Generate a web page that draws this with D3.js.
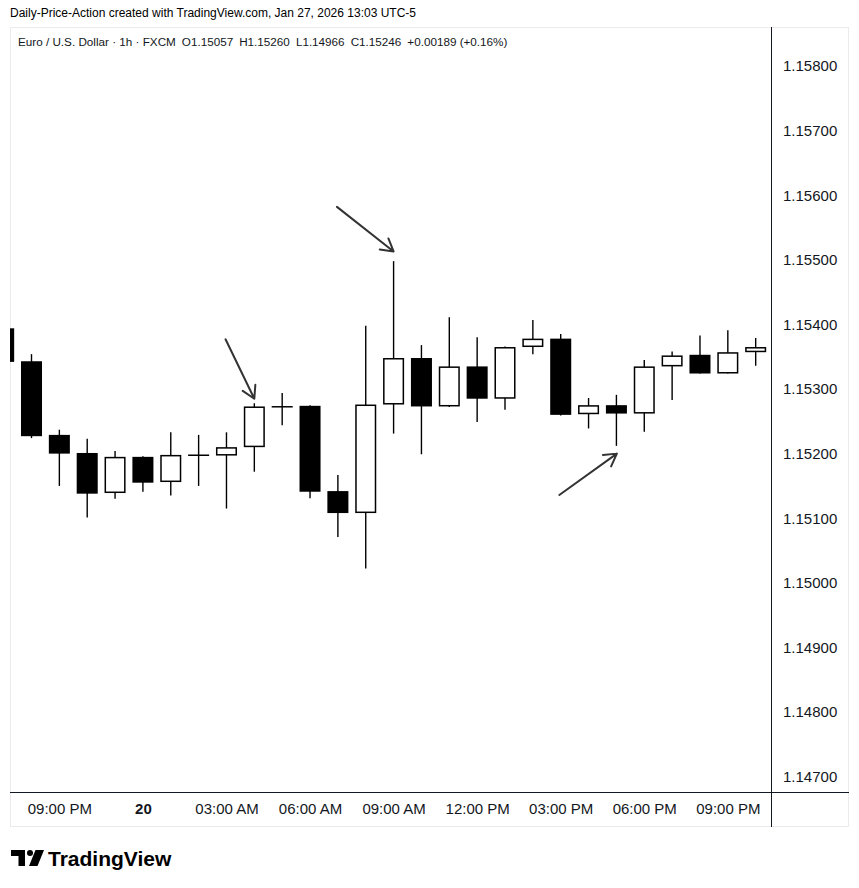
<!DOCTYPE html>
<html>
<head>
<meta charset="utf-8">
<script src="https://cdn.jsdelivr.net/npm/d3@7"></script>
<style>
  html, body { margin: 0; padding: 0; background: #ffffff; }
  svg { display: block; }
  text { font-family: "Liberation Sans", Arial, sans-serif; }
</style>
</head>
<body>
<svg id="chart" width="859" height="888"></svg>
<script>
// ---------- DATA ----------
const hours = ["Jan 19 19:00","Jan 19 20:00","Jan 19 21:00","Jan 19 22:00","Jan 19 23:00",
  "Jan 20 00:00","Jan 20 01:00","Jan 20 02:00","Jan 20 03:00","Jan 20 04:00","Jan 20 05:00",
  "Jan 20 06:00","Jan 20 07:00","Jan 20 08:00","Jan 20 09:00","Jan 20 10:00","Jan 20 11:00",
  "Jan 20 12:00","Jan 20 13:00","Jan 20 14:00","Jan 20 15:00","Jan 20 16:00","Jan 20 17:00",
  "Jan 20 18:00","Jan 20 19:00","Jan 20 20:00","Jan 20 21:00","Jan 20 22:00"];
const open  = [1.15394,1.15343,1.15229,1.15201,1.15139,1.15195,1.15156,1.15198,1.15197,1.15210,1.15273,
  1.15274,1.15142,1.15108,1.15276,1.15348,1.15273,1.15335,1.15285,1.15365,1.15378,1.15261,1.15275,
  1.15262,1.15335,1.15353,1.15324,1.15357];
const high  = [1.15400,1.15354,1.15237,1.15223,1.15204,1.15196,1.15233,1.15229,1.15233,1.15278,1.15294,
  1.15275,1.15167,1.15398,1.15498,1.15368,1.15411,1.15380,1.15366,1.15407,1.15385,1.15286,1.15291,
  1.15345,1.15358,1.15383,1.15391,1.15379];
const low   = [1.15335,1.15224,1.15150,1.15101,1.15130,1.15141,1.15135,1.15150,1.15115,1.15172,1.15244,
  1.15131,1.15071,1.15022,1.15231,1.15199,1.15272,1.15249,1.15268,1.15354,1.15259,1.15239,1.15212,
  1.15234,1.15283,1.15324,1.15324,1.15336];
const close = [1.15342,1.15227,1.15200,1.15138,1.15195,1.15155,1.15198,1.15197,1.15210,1.15273,1.15272,
  1.15141,1.15108,1.15276,1.15348,1.15273,1.15335,1.15285,1.15365,1.15378,1.15260,1.15275,1.15262,
  1.15335,1.15352,1.15324,1.15357,1.15365];

const timeTickHours  = ["Jan 19 21:00","Jan 20 00:00","Jan 20 03:00","Jan 20 06:00","Jan 20 09:00",
  "Jan 20 12:00","Jan 20 15:00","Jan 20 18:00","Jan 20 21:00"];
const timeTickLabels = ["09:00 PM","20","03:00 AM","06:00 AM","09:00 AM","12:00 PM","03:00 PM","06:00 PM","09:00 PM"];
const priceTicks = [1.147,1.148,1.149,1.150,1.151,1.152,1.153,1.154,1.155,1.156,1.157,1.158];

// arrow annotations
const arrowFromHour  = ["Jan 20 02:58","Jan 20 06:58","Jan 20 14:57"];
const arrowFromPrice = [1.15377, 1.15582, 1.15136];
const arrowToHour    = ["Jan 20 04:00","Jan 20 09:00","Jan 20 17:01"];
const arrowToPrice   = [1.15285, 1.15513, 1.15200];

const headerText = "Daily-Price-Action created with TradingView.com, Jan 27, 2026 13:03 UTC-5";
const legendText = "Euro / U.S. Dollar · 1h · FXCM";
const legendOHLC = ["O1.15057","H1.15260","L1.14966","C1.15246","+0.00189 (+0.16%)"];

// ---------- LAYOUT ----------
const box = {left: 10, top: 27, right: 849, bottom: 827};
const plot = {left: 10, top: 27, right: 771, bottom: 792};
const parse = d3.timeParse("%Y %b %d %H:%M");
const toDate = s => parse("2026 " + s);
const bars = hours.map((h, i) => ({t: toDate(h), o: open[i], h: high[i], l: low[i], c: close[i]}));

const t0 = toDate("Jan 19 20:00");
const hourMs = 3600e3;
const x = d3.scaleTime()
  .domain([new Date(+t0 - 0.772 * hourMs), new Date(+t0 + 26.55 * hourMs)])
  .range([plot.left, plot.right]);
const y = d3.scaleLinear().domain([1.146762, 1.158604]).range([plot.bottom, plot.top]);
const step = x(new Date(+t0 + hourMs)) - x(t0);
const bodyW = step * 0.755;

const svg = d3.select("#chart");
const ink = "#131722";

// header
svg.append("text").attr("x", 10).attr("y", 17).attr("font-size", 12).attr("fill", "#000")
  .text(headerText);

// box
svg.append("rect").attr("x", box.left + 0.5).attr("y", box.top + 0.5)
  .attr("width", box.right - box.left - 1).attr("height", box.bottom - box.top - 1)
  .attr("fill", "#fff").attr("stroke", "#ebebeb");

// legend
const leg = svg.append("text").attr("x", 18).attr("y", 46).attr("font-size", 11.7).attr("fill", ink);
leg.append("tspan").text(legendText);
legendOHLC.forEach(s => leg.append("tspan").attr("dx", 6).text(s));

// clip
svg.append("clipPath").attr("id", "clip").append("rect")
  .attr("x", plot.left).attr("y", plot.top)
  .attr("width", plot.right - plot.left).attr("height", plot.bottom - plot.top);
const g = svg.append("g").attr("clip-path", "url(#clip)");

// candles
const cg = g.selectAll("g.c").data(bars).join("g").attr("class", "c");
cg.append("line")
  .attr("x1", d => x(d.t)).attr("x2", d => x(d.t))
  .attr("y1", d => y(d.h)).attr("y2", d => y(d.l))
  .attr("stroke", "#000").attr("stroke-width", 1.4);
cg.each(function(d) {
  const sel = d3.select(this);
  const top = y(Math.max(d.o, d.c)), bot = y(Math.min(d.o, d.c));
  const cx = x(d.t);
  if (bot - top < 1.5) {
    sel.append("line").attr("x1", cx - bodyW / 2).attr("x2", cx + bodyW / 2)
      .attr("y1", (top + bot) / 2).attr("y2", (top + bot) / 2)
      .attr("stroke", "#000").attr("stroke-width", 1.5);
  } else if (d.c < d.o) {
    sel.append("rect").attr("x", cx - bodyW / 2).attr("y", top)
      .attr("width", bodyW).attr("height", bot - top).attr("fill", "#000");
  } else {
    sel.append("rect").attr("x", cx - bodyW / 2 + 0.75).attr("y", top + 0.75)
      .attr("width", bodyW - 1.5).attr("height", Math.max(0, bot - top - 1.5))
      .attr("fill", "#fff").attr("stroke", "#000").attr("stroke-width", 1.5);
  }
});

// arrows
const arrowCol = "#333333";
arrowFromHour.forEach((fh, i) => {
  const x1 = x(toDate(fh)), y1 = y(arrowFromPrice[i]);
  const x2 = x(toDate(arrowToHour[i])), y2 = y(arrowToPrice[i]);
  const ang = Math.atan2(y2 - y1, x2 - x1);
  const L = 14, spread = Math.PI / 6;
  const hx1 = x2 - L * Math.cos(ang - spread), hy1 = y2 - L * Math.sin(ang - spread);
  const hx2 = x2 - L * Math.cos(ang + spread), hy2 = y2 - L * Math.sin(ang + spread);
  svg.append("path")
    .attr("d", `M${x1},${y1}L${x2},${y2}M${hx1},${hy1}L${x2},${y2}L${hx2},${hy2}`)
    .attr("fill", "none").attr("stroke", arrowCol).attr("stroke-width", 2)
    .attr("stroke-linecap", "round").attr("stroke-linejoin", "round");
});

// axes lines
svg.append("line").attr("x1", plot.right + 0.5).attr("x2", plot.right + 0.5)
  .attr("y1", box.top).attr("y2", box.bottom).attr("stroke", ink).attr("stroke-width", 1);
svg.append("line").attr("x1", box.left).attr("x2", box.right)
  .attr("y1", plot.bottom + 0.5).attr("y2", plot.bottom + 0.5).attr("stroke", ink).attr("stroke-width", 1);

// price axis
const yAxis = d3.axisRight(y).tickValues(priceTicks).tickFormat(d3.format(".5f")).tickSize(0).tickPadding(12);
const ya = svg.append("g").attr("transform", `translate(${plot.right},0)`).call(yAxis);
ya.select(".domain").remove();
ya.selectAll("text").attr("font-size", 15).attr("fill", ink)
  .attr("font-family", "'Liberation Sans', Arial, sans-serif");

// time axis
const xAxis = d3.axisBottom(x).tickValues(timeTickHours.map(toDate))
  .tickFormat((d, i) => timeTickLabels[i]).tickSize(0).tickPadding(11);
const xa = svg.append("g").attr("transform", `translate(0,${plot.bottom})`).call(xAxis);
xa.select(".domain").remove();
xa.selectAll("text").attr("font-size", 15).attr("fill", ink)
  .attr("font-family", "'Liberation Sans', Arial, sans-serif")
  .attr("font-weight", (d, i) => timeTickLabels[i] === "20" ? "bold" : "normal");

// logo
const logo = svg.append("g").attr("fill", "#000");
logo.append("path").attr("d", "M11,850H25V866H18.5V856H11Z");
logo.append("circle").attr("cx", 30).attr("cy", 853).attr("r", 3);
logo.append("path").attr("d", "M35.5,850H44L37.5,866H29Z");
svg.append("text").attr("x", 48).attr("y", 866).attr("font-size", 21).attr("font-weight", "bold")
  .attr("fill", "#000").text("TradingView");
</script>
</body>
</html>
